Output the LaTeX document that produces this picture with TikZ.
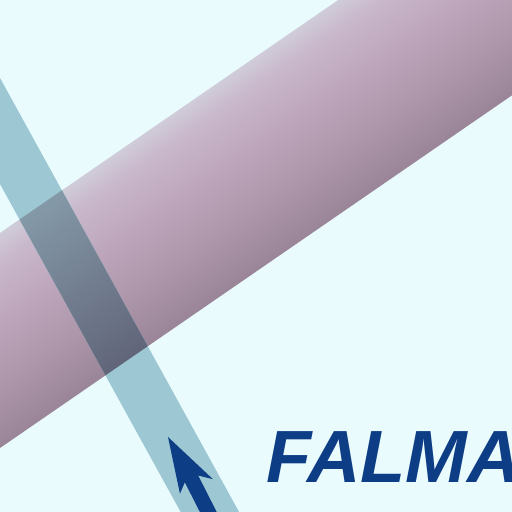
\documentclass[tikz,border=0pt]{standalone}
\usepackage{fontspec}
\newfontfamily\falmafont{Liberation Sans}
\definecolor{bgc}{HTML}{E9FBFD}
\definecolor{ptop}{HTML}{D0CCD9}
\definecolor{phi}{HTML}{C9B7CB}
\definecolor{pmid}{HTML}{BEA7BC}
\definecolor{plow}{HTML}{AE97AB}
\definecolor{pbot}{HTML}{9A8498}
\definecolor{ctop}{HTML}{8499A8}
\definecolor{cbot}{HTML}{616579}
\definecolor{tealband}{HTML}{9DC7D3}
\definecolor{navyc}{HTML}{0D3D85}
\pgfdeclareverticalshading{pinkband}{100bp}{color(0bp)=(pbot); color(25bp)=(pbot); color(40bp)=(plow); color(55bp)=(pmid); color(68bp)=(phi); color(75bp)=(ptop); color(100bp)=(ptop)}
\tikzset{
  tealshape/.style={fill=tealband},
  arrowshape/.style={fill=navyc},
  logotext/.style={anchor=base west, inner sep=0pt, text=navyc, font=\falmafont\bfseries\itshape\fontsize{74}{74}\selectfont}
}
\begin{document}
\begin{tikzpicture}[x=1pt,y=1pt]
\useasboundingbox (0,0) rectangle (512,512);
\clip (0,0) rectangle (512,512);
\fill[bgc] (0,0) rectangle (512,512);
% pink band
\begin{scope}[transform canvas={shift={(0,64)},rotate=34.56}]
  \shade[shading=pinkband] (-300,0) rectangle (900,177.1);
\end{scope}
% teal band
\fill[tealshape] (-50,418.8) -- (191.7,-20) -- (250.1,-20) -- (-50,524.8) -- cycle;
% crossing
\begin{scope}
  \clip (-50,418.8) -- (191.7,-20) -- (250.1,-20) -- (-50,524.8) -- cycle;
  \begin{scope}[transform canvas={shift={(0,64)},rotate=34.56}]
    \shade[top color=ctop, bottom color=cbot] (-300,0) rectangle (900,177.1);
  \end{scope}
\end{scope}
% arrow
\begin{scope}[shift={(168,75)}, rotate=-63.1]
  \fill[arrowshape] (0,0) -- (58,21) -- (48,9.5) -- (110,9.5) -- (110,-5.5) -- (48,-5.5) -- (56,-15) -- cycle;
\end{scope}
% text
\node[logotext] (falma) at (266,30) {FALMA};
\end{tikzpicture}
\end{document}
